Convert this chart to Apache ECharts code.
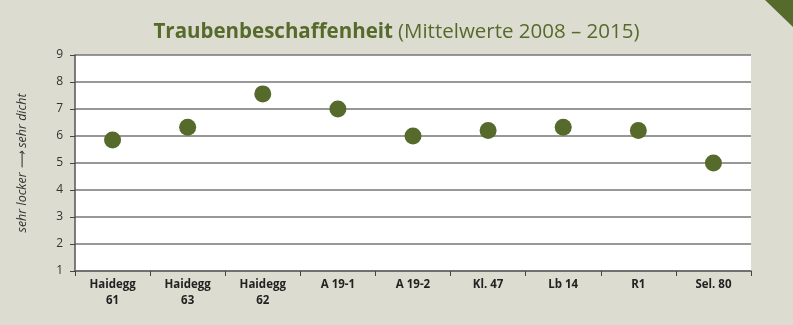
<!DOCTYPE html>
<html>
<head>
<meta charset="utf-8">
<script src="https://cdn.jsdelivr.net/npm/echarts@6/dist/echarts.min.js"></script>
<style>
  html, body { margin: 0; padding: 0; background: #dddcd0; }
  #chart { width: 793px; height: 325px; }
</style>
</head>
<body>
<div id="chart"></div>
<script>
// Sorten und mittlere Traubenbeschaffenheit (1 = sehr locker, 9 = sehr dicht)
const categories = ['Haidegg\n61', 'Haidegg\n63', 'Haidegg\n62', 'A 19-1', 'A 19-2', 'Kl. 47', 'Lb 14', 'R1', 'Sel. 80'];
const values = [5.85, 6.32, 7.56, 7.0, 6.0, 6.2, 6.32, 6.2, 5.0];
const yTicks = [1, 2, 3, 4, 5, 6, 7, 8, 9];

const green = '#566a2c';
const font = '"Open Sans", sans-serif';

const chart = echarts.init(document.getElementById('chart'), null, { renderer: 'canvas' });
chart.setOption({
  backgroundColor: '#dddcd0',
  animation: false,
  title: {
    text: '{b|Traubenbeschaffenheit} {n|(Mittelwerte 2008 – 2015)}',
    left: 'center',
    top: 17,
    textStyle: {
      rich: {
        b: { fontFamily: font, fontWeight: 'bold', fontSize: 20.5, color: green },
        n: { fontFamily: font, fontWeight: 'normal', fontSize: 20.5, color: green }
      }
    }
  },
  graphic: [{
    type: 'polygon',
    shape: { points: [[765, 0], [793, 0], [793, 27]] },
    style: { fill: green },
    silent: true
  }],
  grid: {
    left: 75, right: 42, top: 55, bottom: 54,
    show: true, backgroundColor: '#ffffff', borderWidth: 0
  },
  xAxis: {
    type: 'category',
    data: categories,
    boundaryGap: true,
    axisLine: { show: true, lineStyle: { color: '#666', width: 1.5 } },
    axisTick: { show: true, length: 5, alignWithLabel: false, lineStyle: { color: '#444', width: 1 } },
    axisLabel: {
      interval: 0, margin: 6, color: '#222',
      fontFamily: font, fontWeight: 'bold', fontSize: 11.5, lineHeight: 16
    },
    splitLine: { show: false }
  },
  yAxis: {
    type: 'value',
    min: yTicks[0], max: yTicks[yTicks.length - 1], interval: 1,
    name: 'sehr locker ⟶ sehr dicht',
    nameLocation: 'middle',
    nameGap: 46,
    nameRotate: 90,
    nameTextStyle: { fontFamily: font, fontStyle: 'italic', fontSize: 12.5, color: '#333' },
    axisLine: { show: true, lineStyle: { color: '#555', width: 1.5 } },
    axisTick: { show: true, length: 5, lineStyle: { color: '#444', width: 1 } },
    axisLabel: { margin: 12, color: '#333', fontFamily: font, fontSize: 12 },
    splitLine: { show: true, lineStyle: { color: '#767676', width: 1.5 } }
  },
  series: [{
    type: 'scatter',
    data: values,
    symbol: 'circle',
    symbolSize: 17,
    itemStyle: { color: green, opacity: 1 }
  }]
});
</script>
</body>
</html>
